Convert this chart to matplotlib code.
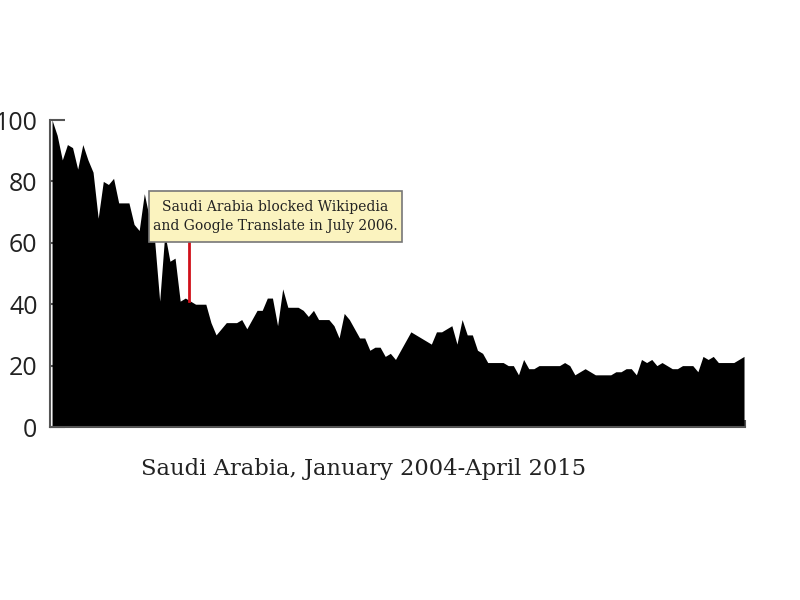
import matplotlib

matplotlib.use("Agg")

import matplotlib.pyplot as plt
from matplotlib.patches import Rectangle

# Monthly interest index, January 2004 to April 2015 (136 months)
months = list(range(136))
interest = [
    100, 95, 87, 92, 91, 84, 92, 87, 83, 68,
    80, 79, 81, 73, 73, 73, 66, 64, 76, 68,
    61, 41, 63, 54, 55, 41, 42, 41, 40, 40,
    40, 34, 30, 32, 34, 34, 34, 35, 32, 35,
    38, 38, 42, 42, 33, 45, 39, 39, 39, 38,
    36, 38, 35, 35, 35, 33, 29, 37, 35, 32,
    29, 29, 25, 26, 26, 23, 24, 22, 25, 28,
    31, 30, 29, 28, 27, 31, 31, 32, 33, 27,
    35, 30, 30, 25, 24, 21, 21, 21, 21, 20,
    20, 17, 22, 19, 19, 20, 20, 20, 20, 20,
    21, 20, 17, 18, 19, 18, 17, 17, 17, 17,
    18, 18, 19, 19, 17, 22, 21, 22, 20, 21,
    20, 19, 19, 20, 20, 20, 18, 23, 22, 23,
    21, 21, 21, 21, 22, 23,
]
yticks = [0, 20, 40, 60, 80, 100]
event_month = 26.7
event_value = 41
event_text = "Saudi Arabia blocked Wikipedia\nand Google Translate in July 2006."
caption = "Saudi Arabia, January 2004-April 2015"

fig = plt.figure(figsize=(8, 6), dpi=100)
ax = fig.add_axes([0.0625, 0.2883, 0.8688, 0.5117])

ax.fill_between(months, interest, 0, color="black", linewidth=0)
ax.set_xlim(-0.4, 135.2)
ax.set_ylim(0, 100)
ax.set_axisbelow(True)

for side in ("top", "right"):
    ax.spines[side].set_visible(False)
for side in ("left", "bottom"):
    ax.spines[side].set_color("#555555")
    ax.spines[side].set_linewidth(1.5)

ax.set_yticks(yticks)
ax.set_xticks([135.2])
ax.set_xticklabels([""])
ax.tick_params(axis="y", direction="in", length=11, width=1.5, color="#555555",
               labelsize=18, pad=9)
ax.tick_params(axis="x", direction="in", length=5, width=1.5, color="#555555")
for label in ax.get_yticklabels():
    label.set_fontfamily("Open Sans")
    label.set_color("#222222")

# red marker line from the event box down to the series
ax.plot([event_month, event_month], [event_value, 60.3], color="#d0101a",
        linewidth=2, zorder=3)
ax.add_patch(Rectangle((0.1424, 0.6026), 0.364, 0.1661, transform=ax.transAxes,
                       facecolor="#fbf3bf", edgecolor="#777777", linewidth=1.2,
                       zorder=4, clip_on=False))
ax.text(0.3245, 0.6857, event_text, transform=ax.transAxes, ha="center", va="center",
        fontsize=10.0, family="DejaVu Serif", color="#222222", linespacing=1.5,
        zorder=5)

fig.text(0.454, 0.219, caption, ha="center", va="center", fontsize=16.3,
         family="DejaVu Serif", color="#222222")

fig.savefig("out.png", dpi=100)
